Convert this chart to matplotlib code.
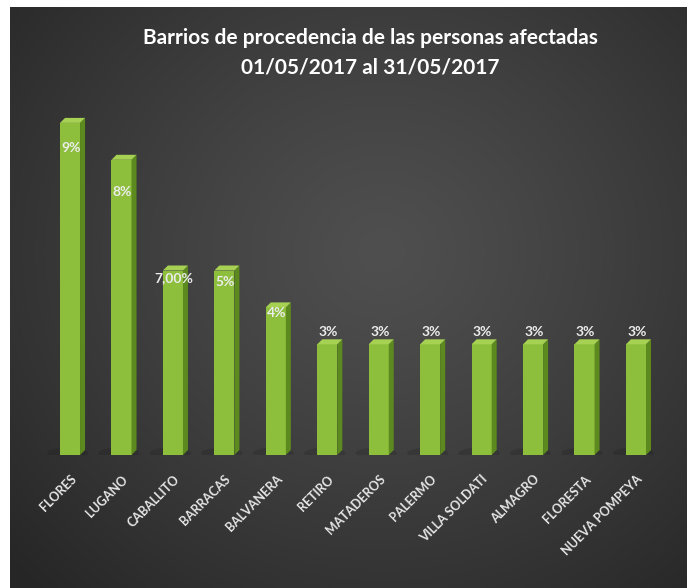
import matplotlib.pyplot as plt
from matplotlib.patches import Polygon, Ellipse
import numpy as np

categories = ['FLORES', 'LUGANO', 'CABALLITO', 'BARRACAS', 'BALVANERA', 'RETIRO',
              'MATADEROS', 'PALERMO', 'VILLA SOLDATI', 'ALMAGRO', 'FLORESTA', 'NUEVA POMPEYA']
values = [9, 8, 5, 5, 4, 3, 3, 3, 3, 3, 3, 3]
value_labels = ['9%', '8%', '7,00%', '5%', '4%', '3%', '3%', '3%', '3%', '3%', '3%', '3%']

title_lines = ['Barrios de procedencia de las personas afectadas',
               '01/05/2017 al 31/05/2017']

W, H = 687, 588
fig = plt.figure(figsize=(W / 100, H / 100), dpi=100, facecolor='white')

# dark radial background
bg = fig.add_axes([10 / W, 0, (W - 10) / W, (H - 7) / H])
yy, xx = np.mgrid[0:1:300j, 0:1:300j]
r = np.sqrt(((xx - 0.55) / 0.75) ** 2 + ((yy - 0.42) / 0.8) ** 2)
shade = 0.31 - 0.16 * np.clip(r, 0, 1) ** 1.2
bg.imshow(np.dstack([shade] * 3), extent=(0, 1, 0, 1), aspect='auto', origin='upper')
bg.axis('off')

# main axes: baseline at y=455px, 1% ~ 36.9px, bar pitch ~51.45px
ax = fig.add_axes([44.3 / W, (H - 455) / H, 617.4 / W, 369 / H])
ax.set_xlim(-0.5, len(categories) - 0.5)
ax.set_ylim(0, 10)
ax.patch.set_alpha(0)
for s in ax.spines.values():
    s.set_visible(False)

x = np.arange(len(categories))
w = 0.39
dx = 5 / 51.45
dy = 5 / 36.9

front = '#8dbf3c'
side = '#5c8a1e'
top = '#a6d152'

for xi, v in zip(x, values):
    ax.add_patch(Ellipse((xi - 0.05, 0.05), 0.8, 0.3, color='black', alpha=0.12,
                         lw=0, zorder=1))
    ax.bar(xi, v, width=w, color=front, zorder=3)
    ax.add_patch(Polygon([(xi + w / 2, 0), (xi + w / 2 + dx, dy), (xi + w / 2 + dx, v + dy),
                          (xi + w / 2, v)], closed=True, color=side, lw=0, zorder=3))
    ax.add_patch(Polygon([(xi - w / 2, v), (xi + w / 2, v), (xi + w / 2 + dx, v + dy),
                          (xi - w / 2 + dx, v + dy)], closed=True, color=top, lw=0, zorder=3))

# label offsets relative to bar top (in %-units)
label_offsets = [-0.68, -0.87, -0.2, -0.3, -0.15, 0.33, 0.33, 0.33, 0.33, 0.33, 0.33, 0.33]
for xi, v, lab, off in zip(x, values, value_labels, label_offsets):
    ax.text(xi + 0.02, v + off, lab, ha='center', va='center', color='#ececec',
            fontsize=10, fontweight='bold', family='Lato', zorder=5)

ax.set_yticks([])
ax.set_xticks(x)
ax.set_xticklabels(categories, rotation=45, ha='right', va='top', rotation_mode='anchor',
                   color='#e6e6e6', fontsize=9, fontweight='bold', family='Lato')
ax.tick_params(axis='x', length=0, pad=13)

fig.text(370 / W, 1 - 38 / H, title_lines[0], ha='center', va='center', color='white',
         fontsize=15, fontweight='bold', family='Lato')
fig.text(370 / W, 1 - 68 / H, title_lines[1], ha='center', va='center', color='white',
         fontsize=15, fontweight='bold', family='Lato')

fig.savefig('out.png', dpi=100, facecolor='white')
